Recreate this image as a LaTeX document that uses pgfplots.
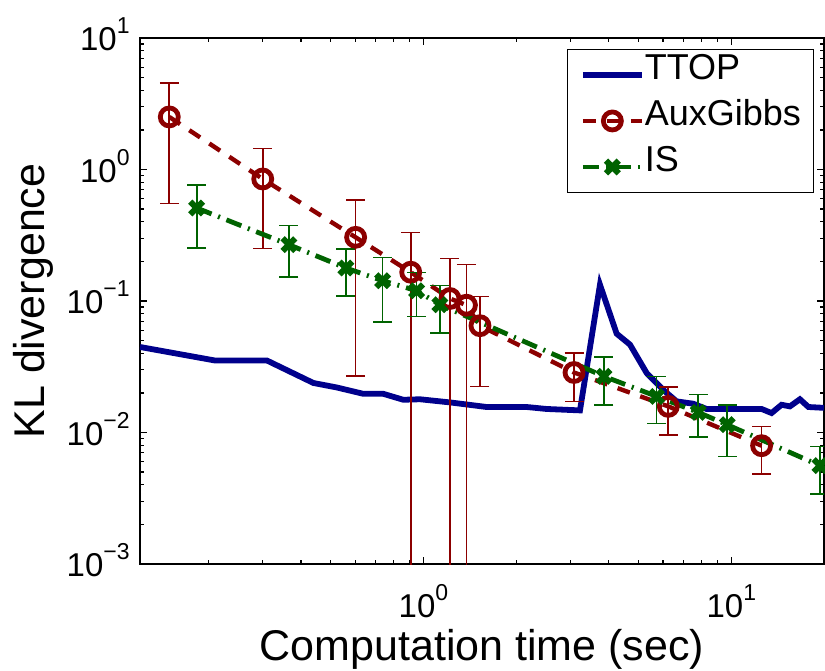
\documentclass[border=0pt]{standalone}
\usepackage{fontspec}
\setmainfont{Liberation Sans}
\usepackage{pgfplots}
\pgfplotsset{compat=1.18}
\usepackage{pgfplotstable}

\definecolor{ttop}{rgb}{0,0,0.55}
\definecolor{aux}{rgb}{0.55,0,0}
\definecolor{isg}{rgb}{0,0.39,0}

\newcommand\tp[1]{10\raisebox{8.5pt}{\fontsize{11.5}{11.5}\selectfont #1}}

\pgfplotstableread{
x y
0.12 0.0447
0.210 0.0353
0.310 0.0353
0.439 0.0238
0.523 0.0220
0.637 0.0197
0.740 0.0197
0.860 0.01774
0.974 0.0179
1.219 0.01694
1.604 0.01563
2.163 0.01563
2.512 0.0151
3.224 0.01473
3.744 0.133
4.242 0.0564
4.686 0.0466
5.31 0.0283
6.01 0.0211
6.64 0.01725
7.52 0.01656
8.31 0.0151
12.54 0.0151
13.51 0.01406
14.56 0.01625
15.5 0.0158
16.7 0.0179
17.8 0.01563
20 0.0154
}\ttopdata

\pgfplotstableread{
x y ep em
0.1494 2.51 2.04 1.96
0.3005 0.847 0.593 0.597
0.602 0.305 0.281 0.278
0.909 0.1656 0.167 0.16559
1.219 0.1045 0.1055 0.10449
1.379 0.0929 0.096 0.09289
1.526 0.0649 0.0431 0.0425
3.083 0.0286 0.0116 0.0114
6.24 0.0158 0.0064 0.0062
12.54 0.00794 0.0032 0.0031
}\auxdata

\pgfplotstableread{
x y ep em
0.1834 0.5095 0.256 0.256
0.3657 0.268 0.106 0.116
0.560 0.1782 0.070 0.0686
0.737 0.1427 0.072 0.0735
0.9504 0.1197 0.0453 0.0433
1.131 0.0937 0.0375 0.0365
3.857 0.02673 0.0108 0.0105
5.72 0.01882 0.0079 0.0071
7.81 0.01422 0.0052 0.0050
9.70 0.01146 0.0047 0.0049
19.4 0.0056 0.0022 0.0022
}\isdata

\begin{document}
\begin{tikzpicture}
\path[use as bounding box] (0,0) rectangle (412.5pt,335pt);
\begin{axis}[
  at={(70pt,53pt)}, anchor=south west,
  scale only axis, width=342pt, height=263pt,
  xmode=log, ymode=log,
  xmin=0.12, xmax=20, ymin=1e-3, ymax=10,
  xtick={1,10}, xticklabels={\tp{0},\tp{1}},
  minor xtick={0.2,0.3,0.4,0.5,0.6,0.7,0.8,0.9,2,3,4,5,6,7,8,9,20},
  ytick={1e-3,1e-2,1e-1,1,10},
  yticklabels={\tp{−3},\tp{−2},\tp{−1},\tp{0},\tp{1}},
  minor ytick={2e-3,3e-3,4e-3,5e-3,6e-3,7e-3,8e-3,9e-3,2e-2,3e-2,4e-2,5e-2,6e-2,7e-2,8e-2,9e-2,0.2,0.3,0.4,0.5,0.6,0.7,0.8,0.9,2,3,4,5,6,7,8,9},
  tick align=inside,
  major tick length=3.5pt, minor tick length=2pt,
  every tick/.style={black, line width=0.6pt},
  axis line style={line width=0.8pt},
  xticklabel style={font=\fontsize{16.5}{16.5}\selectfont, anchor=base, inner sep=0pt, yshift=-26.85pt},
  yticklabel style={font=\fontsize{16.5}{16.5}\selectfont, anchor=base east, inner sep=0pt, xshift=-5pt, yshift=-6.25pt},
  xlabel={Computation time (sec)},
  xlabel style={at={(axis description cs:0.5,-0.1825)}, anchor=base, inner sep=0pt, font=\fontsize{21.5}{21.5}\selectfont},
  ylabel={KL divergence},
  ylabel style={at={(axis description cs:-0.1389,0.5)}, anchor=base, inner sep=0pt, font=\fontsize{21.5}{21.5}\selectfont},
  legend style={at={(axis description cs:1,1)}, anchor=north east, xshift=-5pt, yshift=-5.4pt,
    draw=black, line width=0.75pt, fill=white, font=\fontsize{18}{18}\selectfont,
    inner xsep=6.2pt, inner ysep=1.2pt, row sep=0pt,
    nodes={inner sep=0pt, text height=14pt, text depth=9pt},
    /tikz/every even column/.append style={column sep=3.35pt}},
  legend cell align=left,
  legend image code/.code={\draw[mark repeat=2,mark phase=2] plot coordinates {(0pt,0pt)(14.75pt,0pt)(29.5pt,0pt)};},
]
\addplot[ttop, line width=2.9pt, no markers] table[x=x,y=y]{\ttopdata};
\addplot[aux, line width=2.2pt, dash pattern=on 6.5pt off 5.5pt, mark=o, mark size=4.5pt,
  mark options={solid, line width=2.4pt},
  error bars/.cd, y dir=both, y explicit,
  error bar style={solid, line width=0.8pt},
  error mark options={rotate=90, mark size=4.75pt, line width=0.8pt, solid}]
  table[x=x, y=y, y error plus=ep, y error minus=em]{\auxdata};
\addplot[isg, line width=2.4pt, dash pattern=on 8pt off 3.5pt on 1pt off 3.5pt, mark=x, mark size=4.5pt,
  mark options={solid, line width=3pt},
  error bars/.cd, y dir=both, y explicit,
  error bar style={solid, line width=0.8pt},
  error mark options={rotate=90, mark size=4.75pt, line width=0.8pt, solid}]
  table[x=x, y=y, y error plus=ep, y error minus=em]{\isdata};
\legend{TTOP, AuxGibbs, IS}
\end{axis}
\end{tikzpicture}
\end{document}
